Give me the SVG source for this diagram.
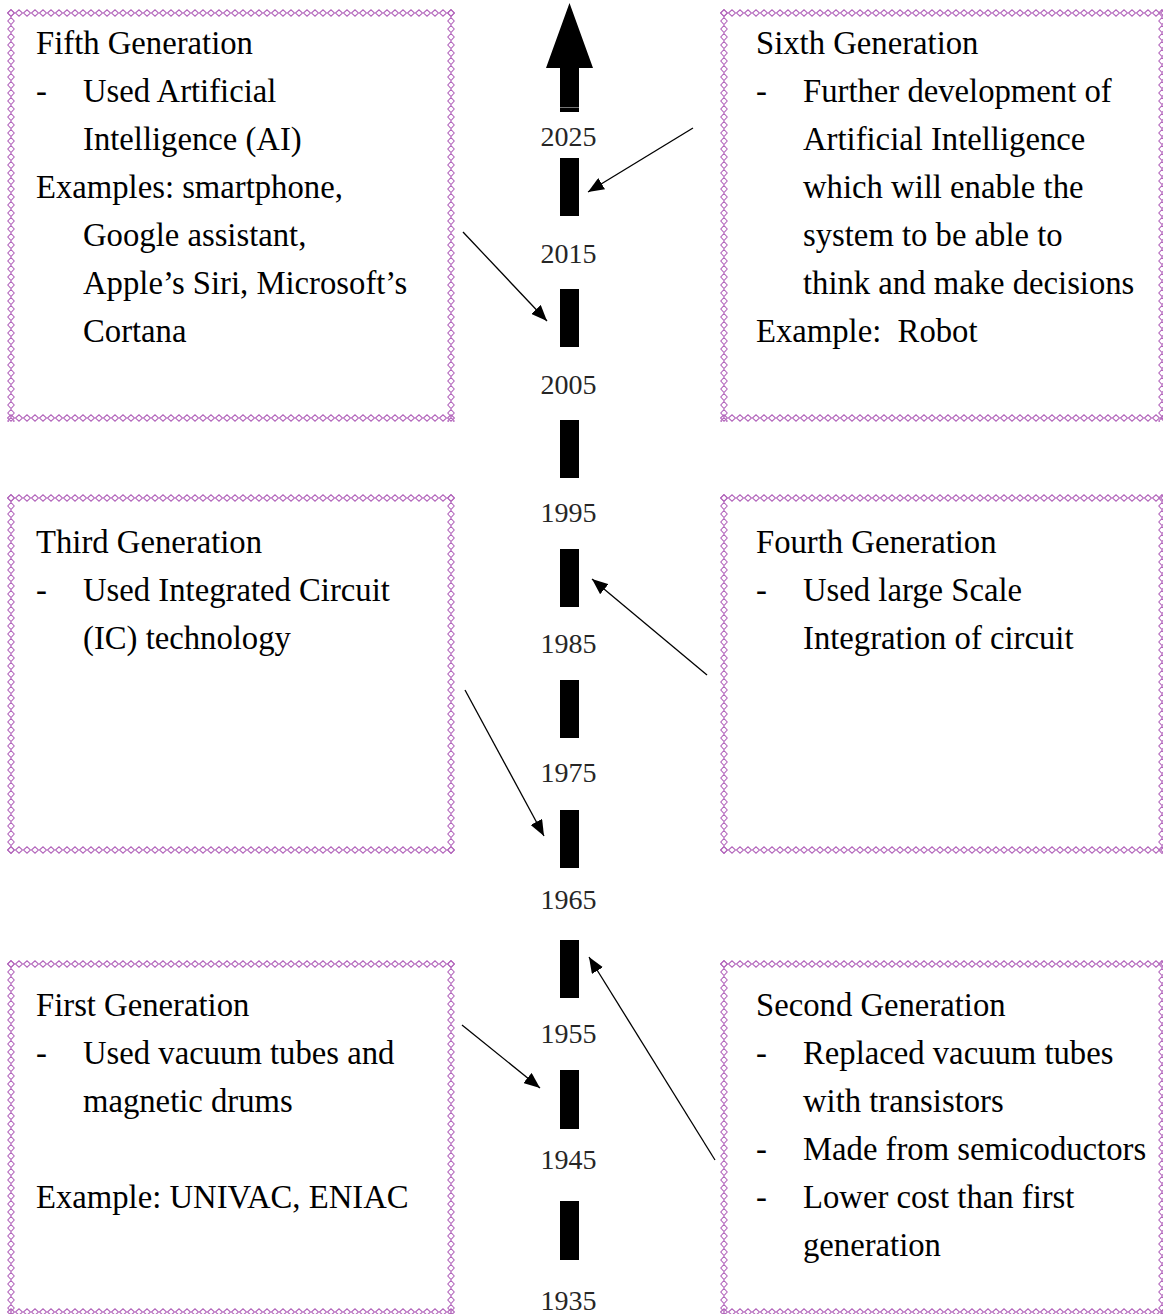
<svg xmlns="http://www.w3.org/2000/svg" width="1163" height="1314" viewBox="0 0 1163 1314">
<style>
.t{font-family:"Liberation Serif","Times New Roman",serif;font-size:32.7px;fill:#000}
.y{font-family:"Liberation Serif","Times New Roman",serif;font-size:28px;fill:#262626;text-anchor:middle}
.bar{fill:#000}
.con{stroke:#000;stroke-width:1.3;fill:none;marker-end:url(#ah)}
.hs{fill:url(#hpat)}
.vs{fill:url(#vpat)}
</style>
<defs>
<pattern id="hpat" x="0" y="0" width="8" height="8" patternUnits="userSpaceOnUse">
<path d="M0.5,4 L4,0.8 L7.5,4 L4,7.2 Z" fill="none" stroke="#b366bc" stroke-width="1.1"/>
</pattern>
<pattern id="vpat" x="0" y="0" width="8" height="8" patternUnits="userSpaceOnUse">
<path d="M4,0.5 L7.2,4 L4,7.5 L0.8,4 Z" fill="none" stroke="#b366bc" stroke-width="1.1"/>
</pattern>
<marker id="ah" markerUnits="userSpaceOnUse" markerWidth="17" markerHeight="13" refX="16" refY="6.5" orient="auto">
<path d="M0,0 L16,6.5 L0,13 Z" fill="#000"/>
</marker>
</defs>
<rect width="1163" height="1314" fill="#fff"/>

<g id="timeline">
<polygon points="569.5,3 593,68 579,68 579,112 560,112 560,68 546,68" fill="#000"/>
<line x1="560" y1="107.5" x2="579" y2="107.5" stroke="#777" stroke-width="1"/>
<rect class="bar" x="560" y="158" width="19" height="58"/>
<rect class="bar" x="560" y="289" width="19" height="58"/>
<rect class="bar" x="560" y="420" width="19" height="58"/>
<rect class="bar" x="560" y="549" width="19" height="58"/>
<rect class="bar" x="560" y="680" width="19" height="58"/>
<rect class="bar" x="560" y="810" width="19" height="58"/>
<rect class="bar" x="560" y="940" width="19" height="58"/>
<rect class="bar" x="560" y="1070" width="19" height="59"/>
<rect class="bar" x="560" y="1201" width="19" height="59"/>
<text class="y" x="568.5" y="146">2025</text>
<text class="y" x="568.5" y="263">2015</text>
<text class="y" x="568.5" y="394">2005</text>
<text class="y" x="568.5" y="522">1995</text>
<text class="y" x="568.5" y="653">1985</text>
<text class="y" x="568.5" y="782">1975</text>
<text class="y" x="568.5" y="909">1965</text>
<text class="y" x="568.5" y="1043">1955</text>
<text class="y" x="568.5" y="1169">1945</text>
<text class="y" x="568.5" y="1310">1935</text>
</g>

<g id="box-fifth">
<g transform="translate(7,9)"><rect class="hs" width="448" height="8"/><rect class="vs" width="8" height="413"/></g>
<g transform="translate(7,414)"><rect class="hs" width="448" height="8"/></g>
<g transform="translate(447,9)"><rect class="vs" width="8" height="413"/></g>
<text class="t" x="36" y="54">Fifth Generation</text>
<text class="t" x="36" y="102">-</text>
<text class="t" x="83" y="102">Used Artificial</text>
<text class="t" x="83" y="150">Intelligence (AI)</text>
<text class="t" x="36" y="198">Examples: smartphone,</text>
<text class="t" x="83" y="246">Google assistant,</text>
<text class="t" x="83" y="294">Apple’s Siri, Microsoft’s</text>
<text class="t" x="83" y="342">Cortana</text>
</g>

<g id="box-sixth">
<g transform="translate(720,9)"><rect class="hs" width="446" height="8"/><rect class="vs" width="8" height="413"/></g>
<g transform="translate(720,414)"><rect class="hs" width="446" height="8"/></g>
<g transform="translate(1158,9)"><rect class="vs" width="8" height="413"/></g>
<text class="t" x="756" y="54">Sixth Generation</text>
<text class="t" x="756" y="102">-</text>
<text class="t" x="803" y="102">Further development of</text>
<text class="t" x="803" y="150">Artificial Intelligence</text>
<text class="t" x="803" y="198">which will enable the</text>
<text class="t" x="803" y="246">system to be able to</text>
<text class="t" x="803" y="294">think and make decisions</text>
<text class="t" x="756" y="342" xml:space="preserve">Example:  Robot</text>
</g>

<g id="box-third">
<g transform="translate(7,494)"><rect class="hs" width="448" height="8"/><rect class="vs" width="8" height="360"/></g>
<g transform="translate(7,846)"><rect class="hs" width="448" height="8"/></g>
<g transform="translate(447,494)"><rect class="vs" width="8" height="360"/></g>
<text class="t" x="36" y="553">Third Generation</text>
<text class="t" x="36" y="601">-</text>
<text class="t" x="83" y="601">Used Integrated Circuit</text>
<text class="t" x="83" y="649">(IC) technology</text>
</g>

<g id="box-fourth">
<g transform="translate(720,494)"><rect class="hs" width="446" height="8"/><rect class="vs" width="8" height="360"/></g>
<g transform="translate(720,846)"><rect class="hs" width="446" height="8"/></g>
<g transform="translate(1158,494)"><rect class="vs" width="8" height="360"/></g>
<text class="t" x="756" y="553">Fourth Generation</text>
<text class="t" x="756" y="601">-</text>
<text class="t" x="803" y="601">Used large Scale</text>
<text class="t" x="803" y="649">Integration of circuit</text>
</g>

<g id="box-first">
<g transform="translate(7,960)"><rect class="hs" width="448" height="8"/><rect class="vs" width="8" height="356"/></g>
<g transform="translate(7,1308)"><rect class="hs" width="448" height="8"/></g>
<g transform="translate(447,960)"><rect class="vs" width="8" height="356"/></g>
<text class="t" x="36" y="1016">First Generation</text>
<text class="t" x="36" y="1064">-</text>
<text class="t" x="83" y="1064">Used vacuum tubes and</text>
<text class="t" x="83" y="1112">magnetic drums</text>
<text class="t" x="36" y="1208">Example: UNIVAC, ENIAC</text>
</g>

<g id="box-second">
<g transform="translate(720,960)"><rect class="hs" width="446" height="8"/><rect class="vs" width="8" height="356"/></g>
<g transform="translate(720,1308)"><rect class="hs" width="446" height="8"/></g>
<g transform="translate(1158,960)"><rect class="vs" width="8" height="356"/></g>
<text class="t" x="756" y="1016">Second Generation</text>
<text class="t" x="756" y="1064">-</text>
<text class="t" x="803" y="1064">Replaced vacuum tubes</text>
<text class="t" x="803" y="1112">with transistors</text>
<text class="t" x="756" y="1160">-</text>
<text class="t" x="803" y="1160">Made from semicoductors</text>
<text class="t" x="756" y="1208">-</text>
<text class="t" x="803" y="1208">Lower cost than first</text>
<text class="t" x="803" y="1256">generation</text>
</g>

<g id="connectors">
<line class="con" x1="693" y1="128" x2="588" y2="192"/>
<line class="con" x1="463" y1="232" x2="547" y2="321"/>
<line class="con" x1="707" y1="675" x2="592" y2="579"/>
<line class="con" x1="465" y1="690" x2="544" y2="836"/>
<line class="con" x1="462" y1="1025" x2="540" y2="1088"/>
<line class="con" x1="715" y1="1160" x2="589" y2="957"/>
</g>
</svg>
